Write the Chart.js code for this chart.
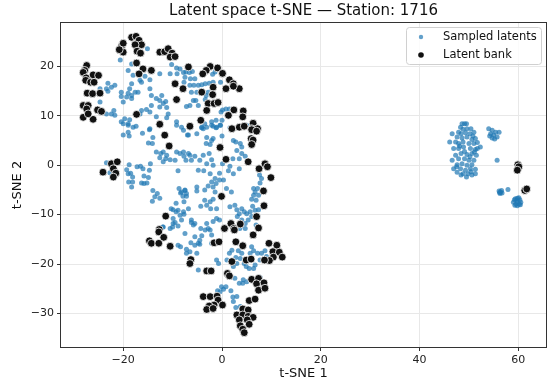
<!DOCTYPE html>
<html>
<head>
<meta charset="utf-8">
<script src="https://cdn.jsdelivr.net/npm/chart.js@4.4.1/dist/chart.umd.min.js"></script>
<style>
  html, body { margin: 0; padding: 0; background: #fff; }
  #wrap { width: 547px; height: 383px; position: relative; }
</style>
</head>
<body>
<div id="wrap"><canvas id="chart"></canvas></div>
<script>
// Labels
const TITLE = 'Latent space t-SNE — Station: 1716';
const X_LABEL = 't-SNE 1';
const Y_LABEL = 't-SNE 2';
const SERIES_NAMES = ['Sampled latents', 'Latent bank'];

// Axis ticks / ranges
const xTicks = [-20, 0, 20, 40, 60];
const yTicks = [-30, -20, -10, 0, 10, 20];
const xRange = [-32.6, 65.6];
const yRange = [-36.8, 28.8];

// Sampled latents (blue), main body
const sampledMain = [
  [-20.6,21.3],[-18.3,20.5],[-15.1,23.6],[-19.0,19.2],[-10.2,20.4],[-10.5,18.5],[-9.2,19.7],[-8.5,19.5],
  [-9.1,18.5],[-7.3,18.9],[-12.6,18.5],[-14.6,17.3],[-15.6,18.0],[-16.6,17.2],[-16.3,16.8],[-18.0,18.2],
  [-18.3,16.5],[-23.1,16.6],[-21.7,16.2],[-22.4,15.8],[-23.4,15.5],[-23.1,15.0],[-24.7,15.5],[-18.7,15.5],
  [-19.0,14.6],[-18.3,14.1],[-17.6,14.8],[-19.3,13.8],[-18.3,13.5],[-20.4,13.9],[-20.0,12.8],[-17.0,14.8],
  [-14.6,15.5],[-14.3,14.1],[-13.3,13.5],[-12.6,13.1],[-12.2,14.1],[-11.4,12.9],[-11.9,12.5],[-12.6,11.8],
  [-11.2,11.7],[-14.3,12.1],[-15.3,11.3],[-16.3,11.1],[-16.6,10.4],[-14.6,10.8],[-13.3,9.8],[-11.2,9.6],
  [-10.9,10.4],[-9.2,8.8],[-8.2,7.7],[-24.7,12.8],[-23.4,10.4],[-22.4,10.4],[-21.7,10.1],[-20.4,8.8],
  [-19.7,9.4],[-18.7,9.2],[-19.0,8.4],[-18.0,7.7],[-14.6,7.4],[-20.4,14.8],[-21.9,11.1],
  [-7.8,18.8],[-7.5,17.8],[-6.6,18.8],[-6.0,19.0],[-6.4,17.5],[-5.5,17.5],[-7.7,16.8],[-6.5,16.2],
  [-5.7,16.2],[-4.8,16.2],[-4.1,16.3],[-3.4,16.5],[-2.6,16.6],[-1.8,16.8],[-1.9,18.4],[-1.4,18.9],
  [-0.3,16.8],[-5.1,14.8],[-6.2,14.8],[-5.8,13.1],[-5.3,13.1],[-6.5,12.1],[-7.2,11.9],[-4.8,12.1],
  [-3.2,14.1],[-3.4,13.3],[-2.8,14.8],[0.1,11.2],[0.8,11.4],[1.5,11.4],[-0.2,10.8],[-1.2,9.1],
  [-2.1,8.8],[-3.1,7.7],[-4.1,7.6],[-1.8,7.9],[-1.1,7.7],[-0.4,8.1],[0.0,9.1],[5.0,8.1],[-3.8,7.4],
  [-20.0,8.4],[-19.0,8.1],[-20.0,6.1],[-18.8,5.9],[-19.0,6.7],[-17.4,7.9],[-16.1,6.5],[-14.7,7.2],
  [-14.9,4.5],[-14.1,4.4],[-14.0,5.6],[-9.2,8.1],[-6.8,6.1],[-13.3,2.7],[-12.4,2.4],[-11.9,2.7],
  [-11.2,2.0],[-11.4,1.3],[-10.5,1.1],[-9.5,1.0],[-9.2,2.7],[-8.5,2.4],[-7.7,1.8],[-6.8,2.4],
  [-12.6,1.5],[-11.9,0.7],[-23.4,0.5],[-22.7,-1.5],[-18.8,0.1],[-19.3,-0.9],[-19.0,-1.7],[-18.5,-1.6],
  [-18.1,-2.4],[-18.9,-3.4],[-18.1,-3.4],[-18.3,-4.4],[-17.2,-0.3],[-16.5,-0.2],[-16.0,-0.7],[-15.8,-2.2],
  [-14.7,-1.0],[-14.5,0.3],[-14.9,-2.5],[-16.3,-3.6],[-15.8,-3.7],[-15.2,-3.6],[-14.0,-5.1],[-13.1,-5.7],
  [-13.6,-6.4],[-12.6,-6.7],[-14.1,-7.3],[-8.9,-1.1],[-8.7,-4.7],[-8.4,-5.6],[-7.5,-5.1],[-7.2,-5.7],
  [-7.9,-6.3],[-7.7,-7.4],[-9.3,-7.7],[-9.9,-9.0],[-10.3,-8.8],[-9.3,-9.4],[-8.9,-9.1],[-8.5,-10.1],
  [-7.7,-9.9],[-9.9,-10.8],[-9.5,-11.6],[-8.9,-12.3],[-8.2,-11.1],[-11.9,-12.5],[-10.5,-12.8],
  [-7.8,7.1],[-7.0,6.1],[-5.1,6.4],[-4.1,7.7],[-3.5,8.4],[-2.1,8.1],[-1.2,7.6],[-0.3,8.1],
  [-3.1,5.6],[-2.1,5.0],[-3.2,4.4],[-2.4,4.2],[-1.8,5.4],[0.0,5.9],[1.6,7.6],[2.3,5.0],
  [2.8,4.7],[3.7,4.4],[4.0,3.7],[3.0,3.0],[4.0,2.4],[4.7,1.8],[2.2,1.3],[3.5,1.3],
  [1.6,-0.2],[1.3,-1.1],[2.3,-1.7],[0.1,0.3],[3.5,-0.7],[-7.8,2.7],[-6.5,2.0],[-7.3,1.0],
  [-6.2,1.0],[-5.5,1.8],[-3.8,2.0],[-2.6,2.4],[-4.5,1.0],[-3.1,0.3],[-2.1,1.1],[-1.8,0.0],
  [-4.8,-1.0],[-3.7,-1.1],[-2.4,-1.7],[-0.5,-1.6],[-1.4,-2.7],[-0.5,-3.0],[0.3,-3.0],[-2.1,-3.4],
  [-1.2,-3.7],[-2.8,-4.2],[-3.5,-5.0],[-1.8,-4.4],[-1.4,-5.4],[-5.1,-4.4],[-5.1,-5.2],[-7.5,-5.0],
  [-7.2,-6.3],[-8.2,-5.4],[-3.5,-7.1],[-2.4,-7.4],[-1.8,-6.9],[-4.3,-8.3],[-3.1,-8.1],[-2.3,-8.8],
  [-1.1,-8.8],[-7.8,-9.4],[-6.8,-8.8],[-6.2,-11.1],[-5.5,-11.8],[-4.3,-12.8],[-2.8,-12.8],[-1.8,-11.4],
  [-1.1,-10.8],[-0.5,-11.1],[1.6,-8.4],[2.6,-8.1],[3.0,-9.0],[3.5,-9.8],[4.0,-8.8],[4.5,-9.4],
  [5.0,-9.8],[5.7,-9.4],[6.7,-9.1],[7.4,-9.0],[6.2,-8.3],[6.9,-7.1],[7.4,-6.1],[6.7,-5.4],
  [6.4,-4.7],[7.2,-4.7],[7.7,-3.6],[8.0,-2.7],[7.6,-2.0],[6.4,-6.1],[6.0,-6.9],[3.1,-10.4],
  [4.0,-11.1],[4.7,-11.8],[5.3,-11.1],[6.0,-10.4],[3.6,-12.8],[4.7,-12.8],[0.9,-4.7],[1.9,-5.4],
  [-12.0,-12.5],[-9.9,-11.8],[-10.0,-12.5],[-7.5,-13.8],[-6.2,-11.6],[-5.8,-12.1],[-5.5,-14.5],[-4.1,-14.3],
  [-4.5,-15.2],[-4.8,-15.8],[-3.1,-11.8],[-2.4,-13.1],[-2.1,-14.1],[-3.4,-13.1],[-8.9,-16.2],[-8.4,-16.5],
  [-7.2,-17.0],[-6.5,-17.5],[-7.2,-17.8],[-6.3,-15.7],[-5.5,-16.2],[-4.5,-16.0],[-1.1,-19.2],[-0.7,-19.9],
  [-4.8,-21.2],[-2.1,-21.5],[1.0,-19.2],[1.5,-17.8],[2.0,-17.2],[2.8,-18.7],[3.0,-19.9],[2.3,-20.5],
  [3.3,-17.3],[4.0,-17.8],[3.7,-18.9],[4.9,-20.5],[6.4,-20.9],[6.7,-20.2],[6.0,-16.5],[6.4,-17.3],
  [7.2,-17.8],[8.0,-17.8],[8.7,-17.3],[7.7,-19.2],[9.0,-18.5],[9.4,-19.5],[5.7,-17.8],[4.5,-19.9],
  [5.5,-20.9],[4.3,-23.2],[5.0,-23.6],[4.2,-23.9],[3.5,-23.9],[2.6,-22.9],[0.8,-24.6],[0.3,-25.1],
  [-0.1,-24.6],[-0.4,-25.6],[-0.9,-25.4],[1.8,-25.4],[2.3,-27.6],[2.2,-26.7],[3.0,-26.6],[2.8,-28.8],
  [3.7,-28.6],[7.7,-22.7],[4.0,-12.1],[6.9,-12.1],[-2.1,-15.8],[-5.1,-17.8]
];

// Sampled latents (blue), right-hand clusters
const sampledRight = [
  [48.6,8.4],[49.1,8.4],[49.5,8.4],[48.3,7.7],[48.8,7.3],[49.6,7.4],[50.4,7.4],[46.6,6.4],
  [47.9,6.7],[48.4,6.4],[49.3,6.6],[50.2,6.4],[51.0,6.7],[50.8,5.9],[47.6,5.7],[48.6,5.5],
  [49.6,5.7],[50.6,5.2],[51.3,5.4],[46.1,4.7],[47.3,4.7],[47.9,4.4],[48.8,4.7],[50.0,4.4],
  [51.0,4.4],[51.7,4.6],[52.3,3.7],[46.9,3.4],[47.9,3.4],[48.9,3.7],[50.3,3.4],[51.3,3.2],
  [47.3,2.0],[48.4,2.4],[49.6,2.2],[50.6,2.4],[51.5,2.0],[46.6,1.0],[47.9,1.3],[49.1,1.3],
  [50.0,1.0],[51.0,1.0],[47.6,0.1],[48.6,0.3],[49.6,0.0],[50.6,0.1],[46.9,-0.7],[48.3,-0.7],
  [49.3,-1.0],[50.3,-0.7],[51.3,-0.8],[47.6,-1.4],[48.8,-1.7],[49.8,-1.7],[50.6,-2.0],[48.4,-2.0],
  [51.3,-1.7],[49.5,-2.4],[50.4,-1.3],[47.5,-0.3],[51.7,3.4],[51.1,2.7],[48.1,3.9],[49.1,2.8],[50.2,1.7],
  [54.0,7.4],[54.7,7.1],[54.4,6.4],[55.0,6.1],[55.4,6.7],[55.7,5.7],[54.7,5.5],[55.2,5.3],[56.1,6.7],[54.2,5.9],
  [55.7,1.0],
  [56.4,-5.4],[56.1,-5.2],[56.7,-5.6],[56.3,-5.7],[56.6,-5.1],[56.2,-5.5],[57.9,-4.9],
  [59.8,-7.4],[59.2,-7.0],[60.3,-7.0],[59.5,-7.9],[60.2,-7.9],[59.0,-7.5],[60.5,-7.5],[59.8,-6.7],
  [59.8,-8.2],[59.4,-6.8],[60.1,-6.6],[59.3,-8.1],[60.4,-8.0],[59.7,-7.1]
];

// Latent bank (black)
const bankMain = [
  [-27.4,20.2],[-27.8,19.2],[-28.1,18.8],[-27.5,17.7],[-27.6,17.2],[-26.1,18.3],[-25.0,18.2],[-26.6,16.8],
  [-25.9,16.8],[-27.3,14.6],[-26.2,14.5],[-24.7,14.6],[-28.1,12.1],[-27.1,12.1],[-27.4,11.4],[-25.2,11.2],
  [-24.4,10.9],[-28.1,9.7],[-26.1,9.3],[-27.1,10.4],
  [-20.3,24.2],[-20.0,24.7],[-18.3,25.9],[-17.4,26.1],[-16.8,25.3],[-16.3,24.4],[-17.6,24.4],[-17.2,23.1],
  [-16.5,22.7],[-20.0,22.9],[-20.8,23.4],[-17.3,20.7],[-16.0,19.5],[-14.3,19.2],[-16.8,18.5],
  [-12.6,22.9],[-11.6,23.0],[-10.9,23.6],[-10.1,22.7],[-10.5,21.9],[-9.5,22.0],[-9.5,16.5],[-9.2,13.3],
  [-17.3,10.3],[-12.6,8.3],
  [-6.8,19.9],[-2.4,20.0],[-3.2,19.2],[-3.9,18.5],[-0.9,19.7],[0.1,18.6],[1.5,17.3],[2.3,16.5],
  [3.5,15.5],[2.3,16.0],[0.8,15.5],[-1.8,15.8],[-1.9,14.3],[-4.1,14.8],[-7.9,15.5],[-2.8,12.5],
  [-1.6,12.5],[-0.8,12.7],[-3.1,11.1],[-4.3,9.1],[-6.5,7.9],[2.0,7.4],[3.5,7.7],[4.3,11.0],
  [4.2,9.8],[2.4,11.2],[1.3,10.1],[6.3,8.5],[7.2,7.4],[6.0,7.4],
  [-11.6,6.1],[-10.7,3.9],[-22.4,0.3],[-21.2,0.7],[-22.0,-0.7],[-24.1,-1.4],[-21.5,-1.6],[-22.0,-2.4],
  [-11.4,-10.3],[-12.7,-13.0],
  [4.5,7.9],[6.0,7.2],[7.0,6.9],[5.9,5.4],[6.3,5.1],[6.0,4.2],[-0.4,3.6],[0.8,1.2],
  [5.3,0.7],[7.5,-0.7],[8.7,0.3],[9.2,-0.3],[9.9,-2.5],[8.4,-5.2],[-0.1,-6.3],[8.5,-8.2],
  [7.0,-10.4],[7.4,-12.7],[1.8,-11.8],[0.5,-12.8],[2.4,-12.8],
  [-14.7,-15.3],[-14.3,-15.8],[-12.8,-13.5],[-11.8,-14.6],[-12.8,-15.8],[-10.5,-16.4],[-6.3,-19.1],[-6.5,-19.9],
  [-3.1,-21.4],[-2.2,-21.4],[-1.6,-15.7],[-0.6,-15.5],[2.5,-13.1],[3.7,-11.9],[6.3,-14.1],[2.8,-15.5],
  [4.2,-16.3],[2.0,-19.5],[1.1,-21.9],[1.5,-22.4],[4.9,-19.2],[5.9,-19.0],[9.5,-15.8],[11.1,-16.2],
  [10.3,-17.5],[11.6,-17.6],[12.2,-18.6],[10.4,-18.6],[9.6,-19.3],[8.6,-19.2],[6.0,-23.1],[7.4,-22.9],
  [7.0,-24.0],[8.5,-23.8],[7.4,-25.3],[8.7,-24.9],[-3.8,-26.6],[-2.4,-26.6],[-1.0,-26.5],[-0.8,-27.3],
  [-1.6,-28.3],[-2.6,-28.5],[-3.1,-29.2],[-1.8,-29.0],[0.1,-28.3],[5.5,-27.4],[6.7,-27.1],[4.2,-29.1],
  [5.3,-29.3],[3.0,-30.3],[4.2,-30.3],[5.3,-30.6],[6.3,-30.8],[3.5,-31.3],[5.1,-31.3],[3.7,-32.5],
  [5.5,-32.2],[4.2,-33.2],[4.5,-33.9]
];
const bankRight = [[59.9,0.1],[60.1,-0.3],[59.8,-1.0],[61.3,-5.1],[61.7,-4.8]];

const BLUE = 'rgba(31, 119, 180, 0.7)';
const BLACK = 'rgba(17, 17, 17, 1)';
const FONT = "'DejaVu Sans', Verdana, sans-serif";

const toPoints = (list) => list.map(([x, y]) => ({ x, y }));
const minus = (v) => String(v).replace('-', '\u2212');

// Title, frame, axis labels, legend
const decorations = {
    id: 'decorations',
    afterDatasetsDraw(chart) {
        const { ctx, chartArea: a } = chart;
        const cx = (a.left + a.right) / 2;
        ctx.save();

        // frame on all four sides
        ctx.strokeStyle = '#333';
        ctx.lineWidth = 1;
        ctx.strokeRect(a.left - 0.5, a.top - 0.5, a.right - a.left + 1, a.bottom - a.top + 1);

        ctx.fillStyle = '#111';
        ctx.textAlign = 'center';
        ctx.textBaseline = 'middle';
        ctx.font = `15px ${FONT}`;
        ctx.fillText(TITLE, cx, 11);

        ctx.font = `13px ${FONT}`;
        ctx.fillText(X_LABEL, cx, 374);
        ctx.save();
        ctx.translate(18, (a.top + a.bottom) / 2);
        ctx.rotate(-Math.PI / 2);
        ctx.fillText(Y_LABEL, 0, 0);
        ctx.restore();

        // legend box
        const lw = 135, lh = 37;
        const lx = a.right - lw - 5, ly = a.top + 4;
        ctx.beginPath();
        ctx.roundRect(lx + 0.5, ly + 0.5, lw, lh, 3);
        ctx.fillStyle = 'rgba(255,255,255,0.8)';
        ctx.fill();
        ctx.strokeStyle = '#d0d0d0';
        ctx.stroke();

        const rows = [
            { label: SERIES_NAMES[0], color: BLUE, r: 2.2 },
            { label: SERIES_NAMES[1], color: BLACK, r: 2.8 },
        ];
        rows.forEach((row, i) => {
            const y = ly + 10 + i * 18;
            ctx.beginPath();
            ctx.arc(lx + 15, y, row.r, 0, Math.PI * 2);
            ctx.fillStyle = row.color;
            ctx.fill();
            ctx.fillStyle = '#111';
            ctx.textAlign = 'left';
            ctx.font = `11.5px ${FONT}`;
            ctx.fillText(row.label, lx + 37, y);
        });
        ctx.restore();
    }
};

const tickStyle = { color: '#222', font: { family: FONT, size: 11 }, padding: 3 };
const gridStyle = { color: '#e8e8e8', tickColor: '#333', tickLength: 4, lineWidth: 1 };

new Chart(document.getElementById('chart'), {
    type: 'scatter',
    data: {
        datasets: [
            {
                label: SERIES_NAMES[1],
                data: toPoints(bankMain.concat(bankRight)),
                backgroundColor: BLACK,
                borderColor: '#ffffff',
                borderWidth: 0.8,
                pointRadius: 3.9,
                order: 0,
            },
            {
                label: SERIES_NAMES[0],
                data: toPoints(sampledMain.concat(sampledRight)),
                backgroundColor: BLUE,
                borderWidth: 0,
                pointRadius: 2.5,
                order: 1,
            },
        ],
    },
    options: {
        responsive: true,
        maintainAspectRatio: false,
        animation: false,
        events: [],
        // autoPadding would reserve room for the point radius on the right
        layout: { autoPadding: false, padding: { left: 0, right: 1, top: 23, bottom: 0 } },
        plugins: {
            legend: { display: false },
            tooltip: { enabled: false },
        },
        scales: {
            x: {
                type: 'linear',
                min: xRange[0],
                max: xRange[1],
                afterBuildTicks: (scale) => { scale.ticks = xTicks.map(v => ({ value: v })); },
                afterFit: (scale) => {
                    scale.height = 36;
                    scale.paddingLeft = 0;
                    scale.paddingRight = 0;
                },
                ticks: { ...tickStyle, callback: minus, maxRotation: 0 },
                grid: gridStyle,
                border: { display: false },
            },
            y: {
                type: 'linear',
                min: yRange[0],
                max: yRange[1],
                afterBuildTicks: (scale) => { scale.ticks = yTicks.map(v => ({ value: v })); },
                afterFit: (scale) => {
                    scale.width = 61;
                    scale.paddingTop = 0;
                    scale.paddingBottom = 0;
                },
                ticks: { ...tickStyle, callback: minus },
                grid: gridStyle,
                border: { display: false },
            },
        },
    },
    plugins: [decorations],
});
</script>
</body>
</html>
